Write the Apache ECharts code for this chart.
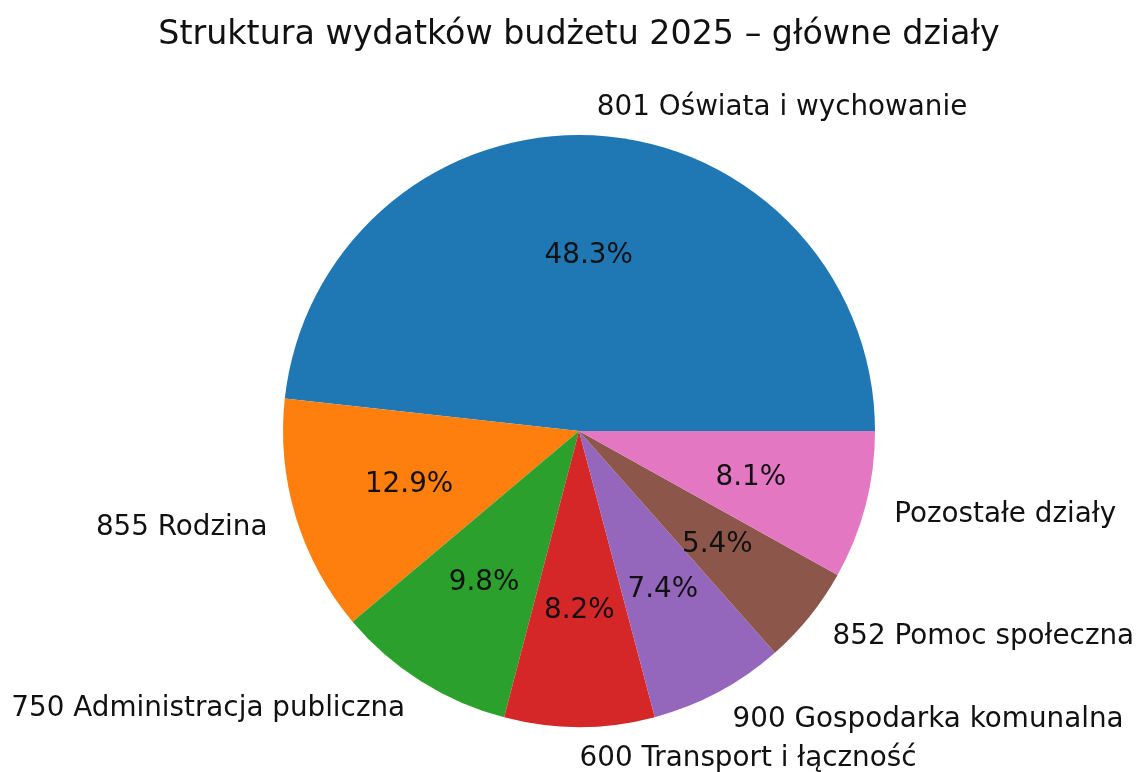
<!DOCTYPE html>
<html>
<head>
<meta charset="utf-8">
<script src="https://cdn.jsdelivr.net/npm/echarts@6/dist/echarts.min.js"></script>
<style>
html,body{margin:0;padding:0;background:#fff;}
#chart{width:1136px;height:772px;}
</style>
</head>
<body>
<div id="chart"></div>
<script>
const titleText = 'Struktura wydatków budżetu 2025 – główne działy';
const categories = [
  '801 Oświata i wychowanie',
  '855 Rodzina',
  '750 Administracja publiczna',
  '600 Transport i łączność',
  '900 Gospodarka komunalna',
  '852 Pomoc społeczna',
  'Pozostałe działy'
];
const shares = [48.3, 12.9, 9.8, 8.2, 7.4, 5.4, 8.1];
const colors = ['#1f77b4', '#ff7f0e', '#2ca02c', '#d62728', '#9467bd', '#8c564b', '#e377c2'];

const CX = 579, CY = 431, R = 296;
const FONT = 'DejaVu Sans';
const total = shares.reduce((a, b) => a + b, 0);

function midAngle(i) {
  let cum = 0;
  for (let k = 0; k < i; k++) cum += shares[k];
  return (cum + shares[i] / 2) / total * 2 * Math.PI;
}

const data = categories.map((name, i) => ({ name: name, value: shares[i] }));

const chart = echarts.init(document.getElementById('chart'), null, { renderer: 'canvas' });
chart.setOption({
  animation: false,
  backgroundColor: '#ffffff',
  color: colors,
  title: {
    text: titleText,
    left: CX,
    top: 19,
    padding: 0,
    textAlign: 'center',
    textStyle: { fontFamily: FONT, fontSize: 33.3, fontWeight: 'normal', color: '#111' }
  },
  series: [
    {
      type: 'pie',
      center: [CX, CY],
      radius: [0, R],
      startAngle: 0,
      clockwise: false,
      silent: true,
      avoidLabelOverlap: false,
      itemStyle: { borderWidth: 0 },
      labelLine: { show: false },
      label: {
        show: true,
        position: 'inside',
        formatter: '{b}',
        fontFamily: FONT,
        fontSize: 27.8,
        color: '#111'
      },
      labelLayout: function (p) {
        const a = midAngle(p.dataIndex);
        return {
          x: CX + 1.1 * R * Math.cos(a),
          y: CY - 1.1 * R * Math.sin(a) + 2,
          align: Math.cos(a) >= 0 ? 'left' : 'right',
          verticalAlign: 'middle'
        };
      },
      data: data
    },
    {
      type: 'pie',
      center: [CX, CY],
      radius: [0, R],
      startAngle: 0,
      clockwise: false,
      silent: true,
      avoidLabelOverlap: false,
      itemStyle: { color: 'rgba(0,0,0,0)', borderWidth: 0 },
      labelLine: { show: false },
      label: {
        show: true,
        position: 'inside',
        formatter: function (p) { return (p.value / total * 100).toFixed(1) + '%'; },
        fontFamily: FONT,
        fontSize: 27.8,
        color: '#111'
      },
      labelLayout: function (p) {
        const a = midAngle(p.dataIndex);
        return {
          x: CX + 0.6 * R * Math.cos(a),
          y: CY - 0.6 * R * Math.sin(a) + 2,
          align: 'center',
          verticalAlign: 'middle'
        };
      },
      data: data
    }
  ]
});
</script>
</body>
</html>
